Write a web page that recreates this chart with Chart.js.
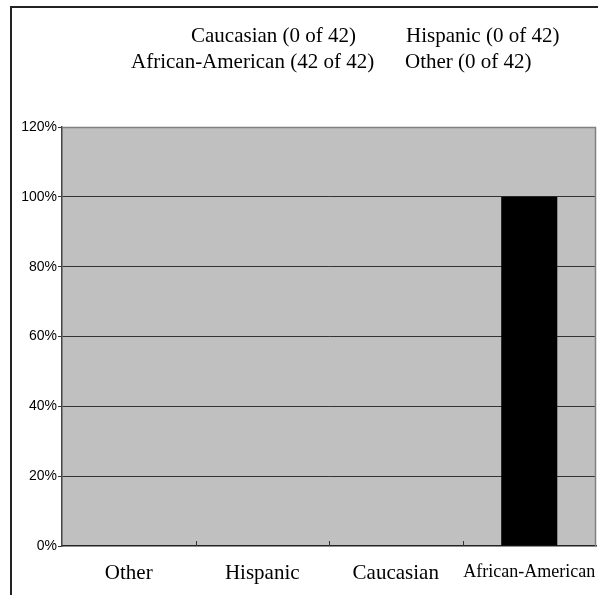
<!DOCTYPE html>
<html>
<head>
<meta charset="utf-8">
<script src="https://cdn.jsdelivr.net/npm/chart.js@4.4.1/dist/chart.umd.min.js"></script>
<style>
  html, body { margin: 0; padding: 0; background: #ffffff; }
  #wrap { position: relative; width: 598px; height: 595px; }
  #frame { position: absolute; left: 10px; top: 6px; width: 588px; height: 589px;
           border-top: 2px solid #222; border-left: 2px solid #222; box-sizing: border-box; pointer-events: none; }
  canvas { position: absolute; left: 0; top: 0; }
</style>
</head>
<body>
<div id="wrap">
  <canvas id="c" width="598" height="595"></canvas>
  <div id="frame"></div>
</div>
<script>
// ---- Data ----
const categories = ['Other', 'Hispanic', 'Caucasian', 'African-American'];
const percentValues = [0, 0, 0, 100];
const legendGroups = ['Caucasian', 'Hispanic', 'African-American', 'Other'];
const legendCounts = [0, 0, 42, 0];
const totalCount = 42;
const yTicks = [0, 20, 40, 60, 80, 100, 120];

const legendPos = [
  { x: 191, y: 36 }, { x: 406, y: 36 },
  { x: 131, y: 62 }, { x: 405, y: 62 }
];

const decorPlugin = {
  id: 'decor',
  beforeDraw(chart) {
    const { ctx, chartArea: a } = chart;
    ctx.save();
    ctx.fillStyle = '#c0c0c0';
    ctx.fillRect(a.left, a.top, a.right - a.left, a.bottom - a.top);
    ctx.restore();
  },
  afterDatasetsDraw(chart) {
    const { ctx, chartArea: a, scales } = chart;
    const xs = scales.x;
    ctx.save();
    // frame top/right
    ctx.strokeStyle = '#808080';
    ctx.lineWidth = 1.5;
    ctx.beginPath();
    ctx.moveTo(a.left, a.top + 0.5);
    ctx.lineTo(a.right - 0.5, a.top + 0.5);
    ctx.lineTo(a.right - 0.5, a.bottom);
    ctx.stroke();
    // inside category boundary ticks
    ctx.strokeStyle = '#333';
    ctx.lineWidth = 1;
    const step = xs.getPixelForValue(1) - xs.getPixelForValue(0);
    for (let i = 1; i < categories.length; i++) {
      const x = Math.round(xs.getPixelForValue(i) - step / 2) + 0.5;
      ctx.beginPath();
      ctx.moveTo(x, a.bottom);
      ctx.lineTo(x, a.bottom - 5);
      ctx.stroke();
    }
    // legend text
    ctx.fillStyle = '#000';
    ctx.font = '21px "Liberation Serif", "Times New Roman", serif';
    ctx.textBaseline = 'middle';
    ctx.textAlign = 'left';
    legendGroups.forEach((g, i) => {
      const t = g + ' (' + legendCounts[i] + ' of ' + totalCount + ')';
      ctx.fillText(t, legendPos[i].x, legendPos[i].y);
    });
    ctx.restore();
  }
};

new Chart(document.getElementById('c'), {
  type: 'bar',
  data: {
    labels: categories,
    datasets: [{
      data: percentValues,
      backgroundColor: '#000000',
      borderWidth: 0,
      categoryPercentage: 1.0,
      barPercentage: 0.42
    }]
  },
  options: {
    responsive: false,
    animation: false,
    devicePixelRatio: 1,
    layout: { padding: { left: 0, right: 2, top: 127, bottom: 0 } },
    plugins: { legend: { display: false }, tooltip: { enabled: false }, title: { display: false } },
    scales: {
      x: {
        grid: { display: false, drawTicks: false },
        border: { display: true, color: '#222', width: 1.5 },
        ticks: {
          color: '#000',
          padding: 15,
          maxRotation: 0,
          autoSkip: false,
          font: (c) => ({ family: '"Liberation Serif", "Times New Roman", serif', size: c.index === 3 ? 18 : 21 })
        },
        afterFit(s) { s.height = 49; s.paddingLeft = 0; s.paddingRight = 0; }
      },
      y: {
        min: 0, max: 120,
        afterBuildTicks(s) { s.ticks = yTicks.map(v => ({ value: v })); },
        grid: {
          color: (c) => c.index === 0 ? 'rgba(0,0,0,0)' : (c.tick && c.tick.value === 120 ? '#808080' : '#333'),
          tickColor: '#333',
          tickLength: 4,
          lineWidth: 1
        },
        border: { display: true, color: '#444', width: 1.5 },
        ticks: {
          color: '#000',
          padding: 1,
          font: { family: '"Liberation Sans", Arial, sans-serif', size: 14 },
          callback: (v) => v + '%'
        },
        afterFit(s) { s.width = 62; s.paddingTop = 0; s.paddingBottom = 0; }
      }
    }
  },
  plugins: [decorPlugin]
});
</script>
</body>
</html>
